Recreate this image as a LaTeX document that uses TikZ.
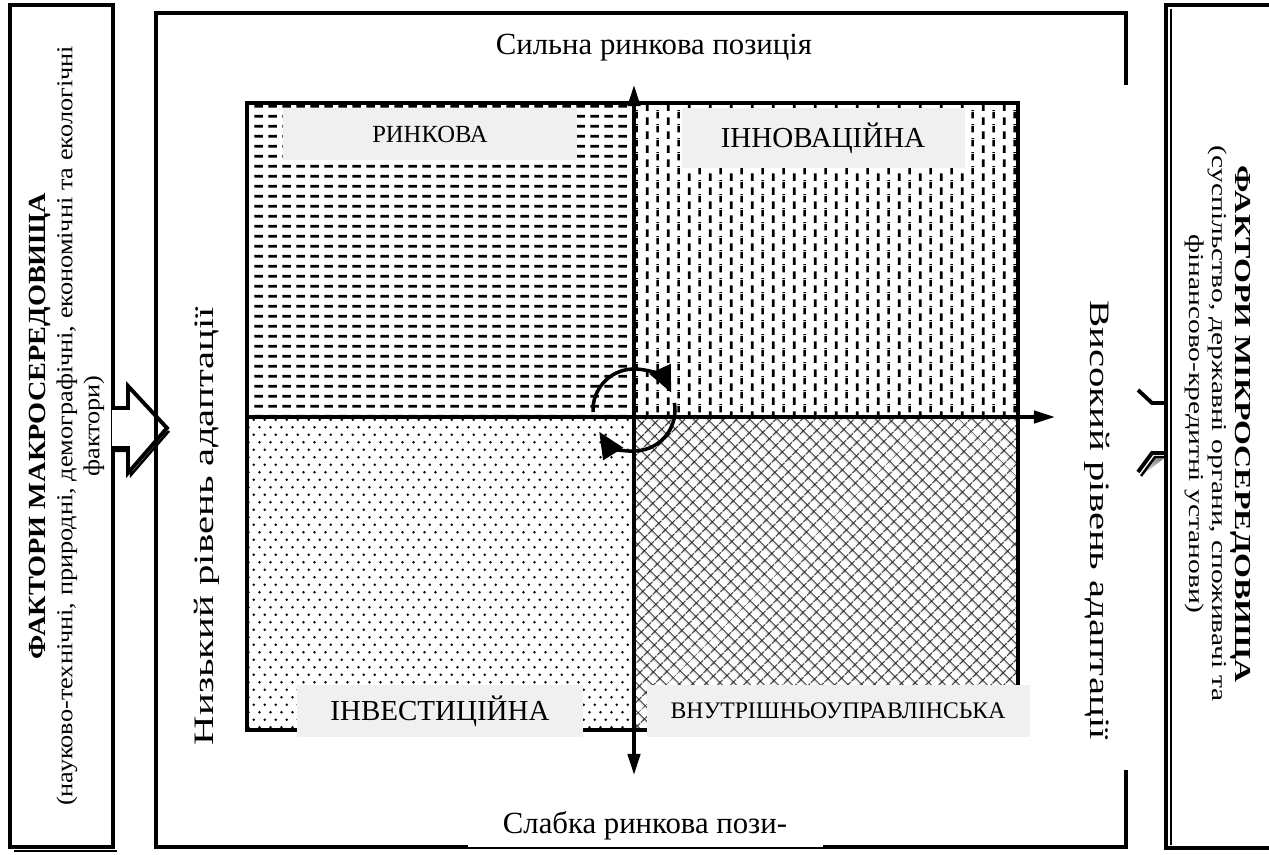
\documentclass[tikz,border=0pt]{standalone}
\usepackage{fontspec}
\setmainfont{Liberation Serif}
\usepackage{graphicx}
\usetikzlibrary{arrows.meta,patterns,patterns.meta,positioning}

\definecolor{lblgray}{HTML}{F0F0F0}
\definecolor{shade}{HTML}{B0B0B0}

%fillings of the four quadrants
\pgfdeclarepatternformonly{hdashes}{\pgfpointorigin}{\pgfqpoint{8pt}{5.6pt}}{\pgfqpoint{8pt}{5.6pt}}{%
  \pgfpathrectangle{\pgfqpoint{1.4pt}{2pt}}{\pgfqpoint{5.2pt}{1.6pt}}%
  \pgfusepath{fill}}
\pgfdeclarepatternformonly{vdashes}{\pgfpointorigin}{\pgfqpoint{12.2pt}{8pt}}{\pgfqpoint{12.2pt}{8pt}}{%
  \pgfpathrectangle{\pgfqpoint{2.3pt}{0pt}}{\pgfqpoint{1.5pt}{4.6pt}}%
  \pgfpathrectangle{\pgfqpoint{8.4pt}{4pt}}{\pgfqpoint{1.5pt}{4pt}}%
  \pgfpathrectangle{\pgfqpoint{8.4pt}{0pt}}{\pgfqpoint{1.5pt}{0.6pt}}%
  \pgfusepath{fill}}
\pgfdeclarepatternformonly{dotgrid}{\pgfpointorigin}{\pgfqpoint{6.1pt}{8.8pt}}{\pgfqpoint{6.1pt}{8.8pt}}{%
  \pgfpathcircle{\pgfqpoint{1.5pt}{2.2pt}}{0.8pt}%
  \pgfpathcircle{\pgfqpoint{4.55pt}{6.6pt}}{0.8pt}%
  \pgfusepath{fill}}

\tikzset{
  frame/.style={line width=2.2pt},
  shadowline/.style={shade, line width=1.4pt},
  axis/.style={line width=2pt},
  tipA/.tip={Triangle[length=12pt,width=7pt]},
  turn/.style={line width=2pt, -{Triangle[length=15pt,width=13pt]}},
  quadlabel/.style={fill=lblgray, inner sep=0pt},
}

\begin{document}
\begin{tikzpicture}[x=0.2mm,y=0.2mm]
\useasboundingbox (0,0) rectangle (1269,854);
 %macro environment box
   \draw[shadowline] (14,3) -- (117,3);
   \draw[frame] (10,849) rectangle (113,7);
   \node[rotate=90] (macro) at (67,428) {\scalebox{1.15}[1]{\fontsize{13}{15.3}\selectfont
     \begin{tabular}{@{}c@{}}
       {\fontsize{14}{15.3}\selectfont\bfseries ФАКТОРИ МАКРОСЕРЕДОВИЩА}\\
       (науково-технічні, природні, демографічні, економічні та екологічні\\
       фактори)
     \end{tabular}}};
 %block arrow into the field
   \draw[shadowline] (114,403) -- (131,403) -- (131,379) -- (169,423);
   \draw[frame, fill=white] (112,446) -- (128,446) -- (128,468) -- (167,426) -- (128,381) -- (128,406) -- (112,406);
 %micro environment box
   \draw[frame] (1272,849) -- (1166,849) -- (1166,6) -- (1272,6);
   \draw[shade, line width=1pt] (1171,845) -- (1171,9);
   \node[rotate=-90] (micro) at (1217,430) {\scalebox{1.4}[1]{\fontsize{12}{13}\selectfont
     \begin{tabular}{@{}c@{}}
       {\fontsize{13}{13}\selectfont\bfseries ФАКТОРИ МІКРОСЕРЕДОВИЩА}\\
       (суспільство, державні органи, споживачі та\\
       фінансово-кредитні установи)
     \end{tabular}}};
   \draw[shadowline] (1166,397) -- (1155,397) -- (1141,378);
   \draw[frame] (1166,451) -- (1152,451) -- (1138,464);
   \draw[frame] (1166,401) -- (1152,401) -- (1138,382);
 %outer field
   \draw[frame] (1126,769) -- (1126,841) -- (156,841) -- (156,7) -- (1126,7) -- (1126,84);
 %quadrants
   \fill[pattern=hdashes] (247,437) rectangle (634,751);
   \fill[pattern=vdashes] (634,437) rectangle (1018,751);
   \fill[pattern=dotgrid] (247,124) rectangle (634,437);
   \fill[pattern={Hatch[angle=45,distance=5.4pt,line width=0.75pt]}, pattern color=black!85] (634,124) rectangle (1018,437);
   \draw[frame] (247,124) rectangle (1018,751);
 %quadrant names
   \node[quadlabel, minimum width=58.8mm, minimum height=10.4mm, font=\fontsize{14}{16}\selectfont] (market) at (430,720) {РИНКОВА};
   \node[quadlabel, minimum width=56.6mm, minimum height=12mm, font=\fontsize{16.5}{18}\selectfont] (innov) at (823,716) {ІННОВАЦІЙНА};
   \node[quadlabel, minimum width=57.2mm, minimum height=10.4mm, font=\fontsize{16.5}{18}\selectfont] (invest) at (440,143) {ІНВЕСТИЦІЙНА};
   \node[quadlabel, minimum width=76.6mm, minimum height=10.4mm, font=\fontsize{13.5}{16}\selectfont] (inner) at (838,143) {ВНУТРІШНЬОУПРАВЛІНСЬКА};
 %axes
   \coordinate (top) at (634,769); \coordinate (bottom) at (634,79);
   \coordinate (left) at (247,437); \coordinate (right) at (1055,437);
   \draw[axis, tipA-tipA] (bottom) -- (top);
   \draw[axis, -tipA] (left) -- (right);
   \node[font=\fontsize{17.5}{20}\selectfont] (strong) at (654,806) {Сильна ринкова позиція};
   \node[fill=white, minimum width=71mm, minimum height=8.4mm, font=\fontsize{17.5}{20}\selectfont] (weak) at (645,28) {Слабка ринкова пози-};
   \node[rotate=90, font=\fontsize{16}{18}\selectfont] (low) at (207,328) {\scalebox{1.45}[1]{Низький рівень адаптації}};
   \node[rotate=-90, font=\fontsize{16}{18}\selectfont] (high) at (1097,334) {\scalebox{1.45}[1]{Високий рівень адаптації}};
 %turning arrows
   \coordinate (hub) at (634,444);
   \draw[turn] ([shift={(183:41)}]hub) arc[start angle=183, end angle=25, radius=41];
   \draw[turn] ([shift={(10:41)}]hub) arc[start angle=10, end angle=-148, radius=41];
\end{tikzpicture}
\end{document}
